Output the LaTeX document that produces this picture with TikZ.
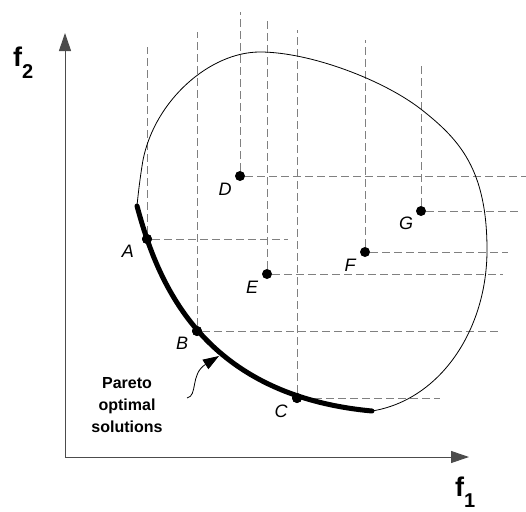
\documentclass[tikz,border=0pt]{standalone}
\usepackage{fontspec}
\setmainfont{Liberation Sans}
\usetikzlibrary{arrows.meta}

\begin{document}
\begin{tikzpicture}[
        x=1pt, y=-1pt,
        >={Triangle[length=18pt,width=12pt]},
        axis/.style={->, draw=black!70, line width=1pt},
        guide/.style={draw=black!50, line width=0.9pt, dash pattern=on 8pt off 4pt},
        region/.style={draw=black, line width=0.8pt},
        front/.style={draw=black, line width=5pt, line cap=round},
        dot/.style={circle, fill=black, inner sep=0pt, minimum size=10pt},
        lbl/.style={font=\fontsize{18}{18}\selectfont\itshape},
        axlbl/.style={anchor=base west, inner sep=0pt,
            font=\fontsize{27}{27}\selectfont\bfseries},
        note/.style={align=center, font=\fontsize{16}{22}\selectfont\bfseries},
        pointer/.style={-{Triangle[length=16pt,width=11pt]}, line width=0.8pt}
    ]
        \useasboundingbox (0,0) rectangle (526,511);

        \coordinate (O) at (65,457);
        \coordinate (ytop) at (65,33);
        \coordinate (xend) at (469,457);
        \draw[axis] (O) -- (ytop);
        \draw[axis] (O) -- (xend);
        \node[axlbl] (f2) at (13,66) {f\raisebox{-13pt}{\fontsize{20}{20}\selectfont 2}};
        \node[axlbl] (f1) at (455,496) {f\raisebox{-11pt}{\fontsize{20}{20}\selectfont 1}};

        \node[dot] (A) at (147,239) {};
        \node[dot] (B) at (197,331) {};
        \node[dot] (C) at (297,398) {};
        \node[dot] (D) at (240,176) {};
        \node[dot] (E) at (267,274) {};
        \node[dot] (F) at (365,252) {};
        \node[dot] (G) at (421,211) {};

        \draw[guide] (A) -- (A |- 0,47);
        \draw[guide] (A) -- (A -| 288,0);
        \draw[guide] (B) -- (B |- 0,32);
        \draw[guide] (B) -- (B -| 502,0);
        \draw[guide] (C) -- (C |- 0,30);
        \draw[guide] (C) -- (C -| 440,0);
        \draw[guide] (D) -- (D |- 0,12);
        \draw[guide] (D) -- (D -| 526,0);
        \draw[guide] (E) -- (E |- 0,20);
        \draw[guide] (E) -- (E -| 503,0);
        \draw[guide] (F) -- (F |- 0,40);
        \draw[guide] (F) -- (F -| 508,0);
        \draw[guide] (G) -- (G |- 0,65);
        \draw[guide] (G) -- (G -| 518,0);

        \draw[region] (372,411) .. controls (440,400) and (487,330) .. (487,250)
            .. controls (487,170) and (460,140) .. (422,110)
            .. controls (384,80) and (310,52) .. (260,52)
            .. controls (210,52) and (155,100) .. (143,160)
            .. controls (140,178) and (138,195) .. (137,206);
        \draw[front] (137,206) .. controls (157,280) and (200,395) .. (372,411);

        \node[dot] at (A) {};
        \node[dot] at (B) {};
        \node[dot] at (C) {};

        \node[lbl] (labA) at ([shift={(-19,12)}]A) {A};
        \node[lbl] (labB) at ([shift={(-15,12)}]B) {B};
        \node[lbl] (labC) at ([shift={(-16,13)}]C) {C};
        \node[lbl] (labD) at ([shift={(-15,13)}]D) {D};
        \node[lbl] (labE) at ([shift={(-15,13)}]E) {E};
        \node[lbl] (labF) at ([shift={(-15,13)}]F) {F};
        \node[lbl] (labG) at ([shift={(-15,12)}]G) {G};

        \node[note] (pareto) at (127,405) {Pareto\\optimal\\solutions};
        \coordinate (tail) at (187,398);
        \coordinate (tip) at (219,356);
        \draw[pointer] (tail) .. controls (198,396) and (190,374) .. (tip);
    \end{tikzpicture}
\end{document}
